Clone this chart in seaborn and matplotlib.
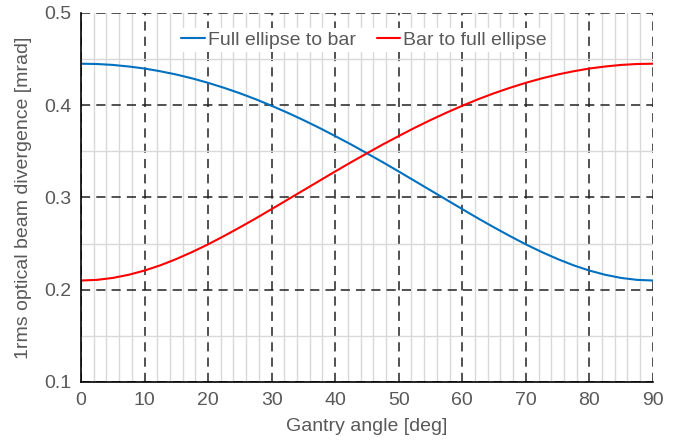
import matplotlib
matplotlib.use("Agg")
import matplotlib.pyplot as plt
import seaborn as sns
import pandas as pd
from matplotlib.ticker import MultipleLocator

angle = [0, 2.5, 5, 7.5, 10, 12.5, 15, 17.5, 20, 22.5, 25, 27.5, 30, 32.5, 35, 37.5, 40, 42.5, 45,
         47.5, 50, 52.5, 55, 57.5, 60, 62.5, 65, 67.5, 70, 72.5, 75, 77.5, 80, 82.5, 85, 87.5, 90]
bar_to_full = [0.2100, 0.2107, 0.2128, 0.2162, 0.2208, 0.2265, 0.2333, 0.2409, 0.2492, 0.2582,
               0.2676, 0.2773, 0.2874, 0.2976, 0.3078, 0.3180, 0.3282, 0.3382, 0.3479,
               0.3575, 0.3666, 0.3755, 0.3839, 0.3919, 0.3994, 0.4065, 0.4130, 0.4189,
               0.4243, 0.4291, 0.4333, 0.4368, 0.4398, 0.4420, 0.4437, 0.4447, 0.4450]
full_to_bar = bar_to_full[::-1]

df = pd.DataFrame({
    "angle": angle * 2,
    "value": full_to_bar + bar_to_full,
    "series": ["Full ellipse to bar"] * len(angle) + ["Bar to full ellipse"] * len(angle),
})

sns.set_style("white")
plt.rcParams['font.family'] = ['Liberation Sans', 'DejaVu Sans']

FS = 14
fig = plt.figure(figsize=(6.88, 4.43), dpi=100)
ax = fig.add_axes([0.1177, 0.1377, 0.949 - 0.1177, 0.9707 - 0.1377])

sns.lineplot(data=df, x="angle", y="value", hue="series",
             palette={"Full ellipse to bar": "#0070C0", "Bar to full ellipse": "#FF0000"},
             linewidth=1.5, ax=ax, legend=True)

ax.set_xlim(0, 90)
ax.set_ylim(0.1, 0.5)
ax.xaxis.set_major_locator(MultipleLocator(10))
ax.xaxis.set_minor_locator(MultipleLocator(2))
ax.yaxis.set_major_locator(MultipleLocator(0.1))
ax.yaxis.set_minor_locator(MultipleLocator(0.05))
ax.yaxis.set_major_formatter(matplotlib.ticker.FormatStrFormatter('%.1f'))

ax.grid(which="minor", color="#d9d9d9", linewidth=1.0, linestyle="-", zorder=0)
ax.grid(which="major", color="#222222", linewidth=1.1, linestyle=(0, (6, 4)), zorder=1)
ax.set_axisbelow(True)

for s in ["top", "right"]:
    ax.spines[s].set_visible(False)
for s in ["left", "bottom"]:
    ax.spines[s].set_color("black")
    ax.spines[s].set_linewidth(1.2)

ax.tick_params(axis="both", which="both", length=0, labelsize=FS, labelcolor="#595959", pad=7)
ax.set_xlabel("Gantry angle [deg]", fontsize=FS, color="#595959", labelpad=7)
ax.set_ylabel("1rms optical beam divergence [mrad]", fontsize=FS, color="#595959", labelpad=9)

leg = ax.legend(loc="upper center", bbox_to_anchor=(0.495, 0.985), ncol=2, frameon=True,
                fontsize=FS, handlelength=1.2, handletextpad=0.15, columnspacing=1.1,
                borderpad=0.15, fancybox=False)
leg.get_frame().set_facecolor("white")
leg.get_frame().set_edgecolor("none")
leg.get_frame().set_alpha(1)
for t in leg.get_texts():
    t.set_color("#595959")

fig.savefig("out.png", dpi=100)
